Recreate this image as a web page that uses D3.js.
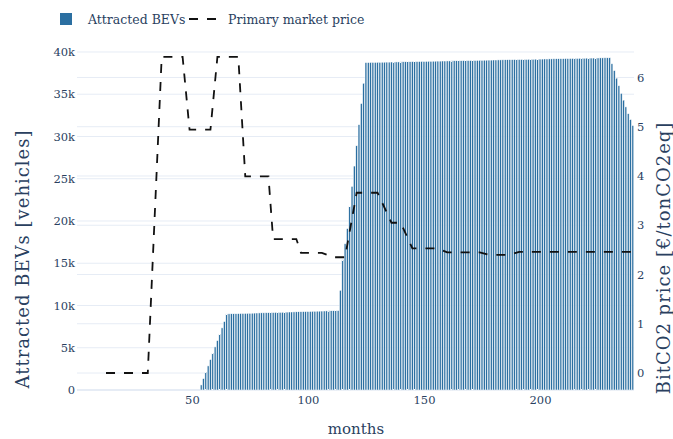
<!DOCTYPE html>
<html>
<head>
<meta charset="utf-8">
<script src="https://cdn.jsdelivr.net/npm/d3@7"></script>
<style>
  html, body { margin: 0; padding: 0; background: #fff; }
  svg { display: block; }
  text { font-family: "DejaVu Serif", "Liberation Serif", serif; fill: #2a3f5f; }
</style>
</head>
<body>
<svg id="chart" width="673" height="439"></svg>
<script>
// Monthly count of attracted battery-electric vehicles (months 54..240)
const barMonths = [
  54,55,56,57,58,59,60,61,62,63,64,
  65,66,67,68,69,70,71,72,73,74,75,76,77,78,79,80,81,82,83,84,85,86,87,88,89,
  90,91,92,93,94,95,96,97,98,99,100,101,102,103,104,105,106,107,108,109,110,111,112,113,
  114,115,116,117,118,119,120,121,122,123,124,
  125,126,127,128,129,130,131,132,133,134,135,136,137,138,139,140,141,142,143,144,
  145,146,147,148,149,150,151,152,153,154,155,156,157,158,159,160,161,162,163,164,
  165,166,167,168,169,170,171,172,173,174,175,176,177,178,179,180,181,182,183,184,
  185,186,187,188,189,190,191,192,193,194,195,196,197,198,199,200,201,202,203,204,
  205,206,207,208,209,210,211,212,213,214,215,216,217,218,219,220,221,222,223,224,
  225,226,227,228,229,
  230,231,232,233,234,235,236,237,238,239,240
];
const attractedBEVs = [
  600,1350,2100,2850,3600,4350,5100,5850,6600,7350,8100,
  9000,9010,9020,9020,9030,9040,9050,9060,9070,9070,9080,9090,9100,9110,9120,9130,9130,9140,9150,9160,9170,9180,9180,9190,9200,
  9210,9220,9230,9230,9240,9250,9260,9270,9280,9280,9290,9300,9310,9320,9330,9330,9340,9350,9360,9370,9380,9380,9390,9400,
  11800,15400,17300,19100,21700,24100,26500,28900,31400,33900,36300,
  38750,38750,38760,38770,38770,38780,38780,38790,38790,38800,38800,38810,38810,38820,38820,38830,38840,38840,38850,38850,
  38860,38860,38870,38870,38880,38880,38890,38900,38900,38910,38910,38920,38920,38930,38930,38940,38940,38950,38960,38960,
  38970,38970,38980,38980,38990,38990,39000,39000,39010,39020,39020,39030,39030,39040,39040,39050,39050,39060,39060,39070,
  39080,39080,39090,39090,39100,39100,39110,39110,39120,39120,39130,39140,39140,39150,39150,39160,39160,39170,39170,39180,
  39180,39190,39200,39200,39210,39210,39220,39220,39230,39230,39240,39240,39250,39260,39260,39270,39270,39280,39280,39290,
  39290,39300,39300,39310,39310,
  39310,38600,37800,36900,36000,35100,34300,33500,32700,32000,31300
];

// Primary market price of BitCO2 (€/tonCO2eq), vertices of the price path
const priceMonths = [13, 31, 37, 46, 49, 58, 61, 70, 73, 83, 85, 95, 97, 106, 111, 116, 121, 130, 136, 140, 145, 156, 160, 174, 178, 187, 191, 240];
const priceValues = [0, 0, 6.42, 6.42, 4.94, 4.94, 6.42, 6.42, 3.99, 3.99, 2.72, 2.72, 2.44, 2.44, 2.35, 2.35, 3.66, 3.66, 3.05, 3.05, 2.53, 2.53, 2.45, 2.45, 2.40, 2.40, 2.46, 2.46];

// Axis ticks
const bevTicks = [0, 5000, 10000, 15000, 20000, 25000, 30000, 35000, 40000];
const bevTickLabels = ["0", "5k", "10k", "15k", "20k", "25k", "30k", "35k", "40k"];
const priceTicks = [0, 1, 2, 3, 4, 5, 6];
const monthTicks = [50, 100, 150, 200];

const seriesNames = ["Attracted BEVs", "Primary market price"];

const barColor = "#2b6fa1";
const gridColor = "#e6ecf5";

const margin = { left: 77, right: 634, top: 42, bottom: 390 };
const svg = d3.select("#chart");

const x = d3.scaleLinear().domain([0.5, 240.5]).range([margin.left, margin.right]);
const yL = d3.scaleLinear().domain([0, 41180]).range([margin.bottom, margin.top]);
const yR = d3.scaleLinear().domain([-0.345, 6.72]).range([margin.bottom, margin.top]);

// Grid lines for both y axes
const grid = svg.append("g");
grid.selectAll("line.gl").data(bevTicks).join("line")
  .attr("x1", margin.left).attr("x2", margin.right)
  .attr("y1", d => yL(d)).attr("y2", d => yL(d))
  .attr("stroke", gridColor).attr("stroke-width", d => d === 0 ? 2 : 1);
grid.selectAll("line.gr").data(priceTicks).join("line")
  .attr("x1", margin.left).attr("x2", margin.right)
  .attr("y1", d => yR(d)).attr("y2", d => yR(d))
  .attr("stroke", gridColor).attr("stroke-width", 1);

// Bars: thin white outline, as in the striped look of dense bars
const bw = (x(2) - x(1));
svg.append("g").selectAll("rect").data(barMonths).join("rect")
  .attr("x", (m) => x(m) - bw * 0.4)
  .attr("width", bw * 0.8)
  .attr("y", (m, i) => yL(attractedBEVs[i]))
  .attr("height", (m, i) => yL(0) - yL(attractedBEVs[i]))
  .attr("fill", barColor)
  .attr("stroke", "#ffffff")
  .attr("stroke-width", 0.5);

// Price line
const pricePts = priceMonths.map((m, i) => [m, priceValues[i]]);
svg.append("path")
  .datum(pricePts)
  .attr("d", d3.line().x(d => x(d[0])).y(d => yR(d[1])))
  .attr("fill", "none")
  .attr("stroke", "#111")
  .attr("stroke-width", 1.8)
  .attr("stroke-dasharray", "9,9");

// Left axis labels
const axL = d3.axisLeft(yL).tickValues(bevTicks).tickFormat((d, i) => bevTickLabels[i]).tickSize(0).tickPadding(2);
const gL = svg.append("g").attr("transform", `translate(${margin.left},0)`).call(axL);
gL.select(".domain").remove();
gL.selectAll("text").style("font-size", "11.5px").attr("fill", "#2a3f5f");

// Right axis labels
const axR = d3.axisRight(yR).tickValues(priceTicks).tickFormat(d3.format("d")).tickSize(0).tickPadding(3);
const gR = svg.append("g").attr("transform", `translate(${margin.right},0)`).call(axR);
gR.select(".domain").remove();
gR.selectAll("text").style("font-size", "11.5px").attr("fill", "#2a3f5f");

// Bottom axis labels
const axB = d3.axisBottom(x).tickValues(monthTicks).tickFormat(d3.format("d")).tickSize(0).tickPadding(6);
const gB = svg.append("g").attr("transform", `translate(0,${margin.bottom})`).call(axB);
gB.select(".domain").remove();
gB.selectAll("text").style("font-size", "11.5px").attr("fill", "#2a3f5f");

// Axis titles
svg.append("text").attr("x", 356).attr("y", 434).attr("text-anchor", "middle")
  .style("font-size", "15px").text("months");
svg.append("text").attr("transform", "translate(29,259) rotate(-90)").attr("text-anchor", "middle")
  .style("font-size", "18px").style("letter-spacing", "1px").text("Attracted BEVs [vehicles]");
svg.append("text").attr("transform", "translate(670,258) rotate(-90)").attr("text-anchor", "middle")
  .style("font-size", "18px").style("letter-spacing", "1px").text("BitCO2 price [€/tonCO2eq]");

// Legend
const lg = svg.append("g");
lg.append("rect").attr("x", 60).attr("y", 13).attr("width", 12).attr("height", 12).attr("fill", barColor);
lg.append("text").attr("x", 88).attr("y", 24).style("font-size", "12.5px").text(seriesNames[0]);
lg.append("line").attr("x1", 189).attr("x2", 219).attr("y1", 19).attr("y2", 19)
  .attr("stroke", "#111").attr("stroke-width", 1.8).attr("stroke-dasharray", "9,9");
lg.append("text").attr("x", 228).attr("y", 24).style("font-size", "12.5px").text(seriesNames[1]);
</script>
</body>
</html>
